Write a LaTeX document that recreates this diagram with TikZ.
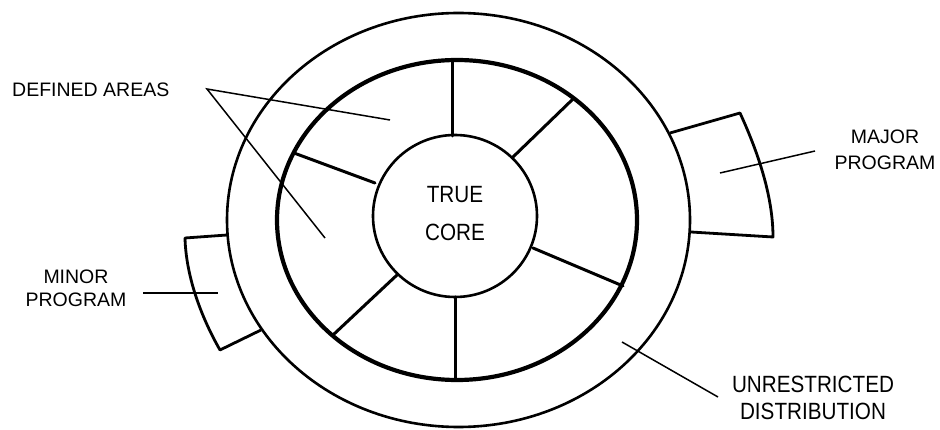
\documentclass[tikz,border=0pt]{standalone}
\usepackage{fontspec}
\setmainfont{Liberation Sans}
\newfontfamily\condfont[FakeStretch=0.88]{Liberation Sans}
\begin{document}
\begin{tikzpicture}[x=1pt,y=-1pt,
  ring/.style={draw=black,line width=2.6pt},
  thickring/.style={draw=black,line width=4.2pt},
  spoke/.style={draw=black,line width=3pt,line cap=round},
  tab/.style={draw=black,line width=2.8pt,line join=round},
  leader/.style={draw=black,line width=1.5pt},
  lbl/.style={inner sep=0pt,align=center,font=\fontsize{19.5}{24}\selectfont},
  biglbl/.style={inner sep=0pt,align=center},
]
\useasboundingbox (0,0) rectangle (940,430);

% centres
\coordinate (c0) at (458.5,220);
\coordinate (c1) at (457,220);
\coordinate (c2) at (455,216);

% spokes (drawn first, rings on top)
\draw[spoke] (452,136) -- (452,60);
\draw[spoke] (513,157) -- (573,99);
\draw[spoke] (533,248) -- (623,286);
\draw[spoke] (455,297) -- (455,380);
\draw[spoke] (397,275) -- (333,335);
\draw[spoke] (375,183) -- (294,153);

% rings
\draw[ring] (c0) ellipse [x radius=231.5, y radius=207];
\draw[thickring] (c1) ellipse [x radius=180, y radius=160];
\draw[ring] (c2) ellipse [x radius=82, y radius=81];

% major program tab
\draw[tab] (670,133) -- (740,113) .. controls (757,150) and (773,195) .. (773,237) -- (691,232);
% minor program tab
\draw[tab] (227,235) -- (185,238) .. controls (186,275) and (200,315) .. (220,350) -- (261,330);

% labels
\node[lbl,anchor=west] (defined) at (12,90) {DEFINED AREAS};
\coordinate (dfrom) at (207,89);
\coordinate (da1) at (390,120);
\coordinate (da2) at (325,238);
\draw[leader] (da1) -- (dfrom) -- (da2);

\node[lbl,font=\fontsize{19.5}{26}\selectfont] (major) at (885,150) {MAJOR\\PROGRAM};
\coordinate (maj1) at (720,173);
\coordinate (maj2) at (815,151);
\draw[leader] (maj1) -- (maj2);

\node[lbl,font=\fontsize{19.5}{23}\selectfont] (minor) at (76,288.5) {MINOR\\PROGRAM};
\coordinate (min1) at (143,293);
\coordinate (min2) at (218,293);
\draw[leader] (min1) -- (min2);

\node[biglbl,font=\condfont\fontsize{23.5}{27}\selectfont] (unres) at (813,398) {UNRESTRICTED\\DISTRIBUTION};
\coordinate (un1) at (622,342);
\coordinate (un2) at (718,397);
\draw[leader] (un1) -- (un2);

\node[biglbl,font=\condfont\fontsize{23.5}{38}\selectfont] (core) at (455,214) {TRUE\\CORE};
\end{tikzpicture}
\end{document}
